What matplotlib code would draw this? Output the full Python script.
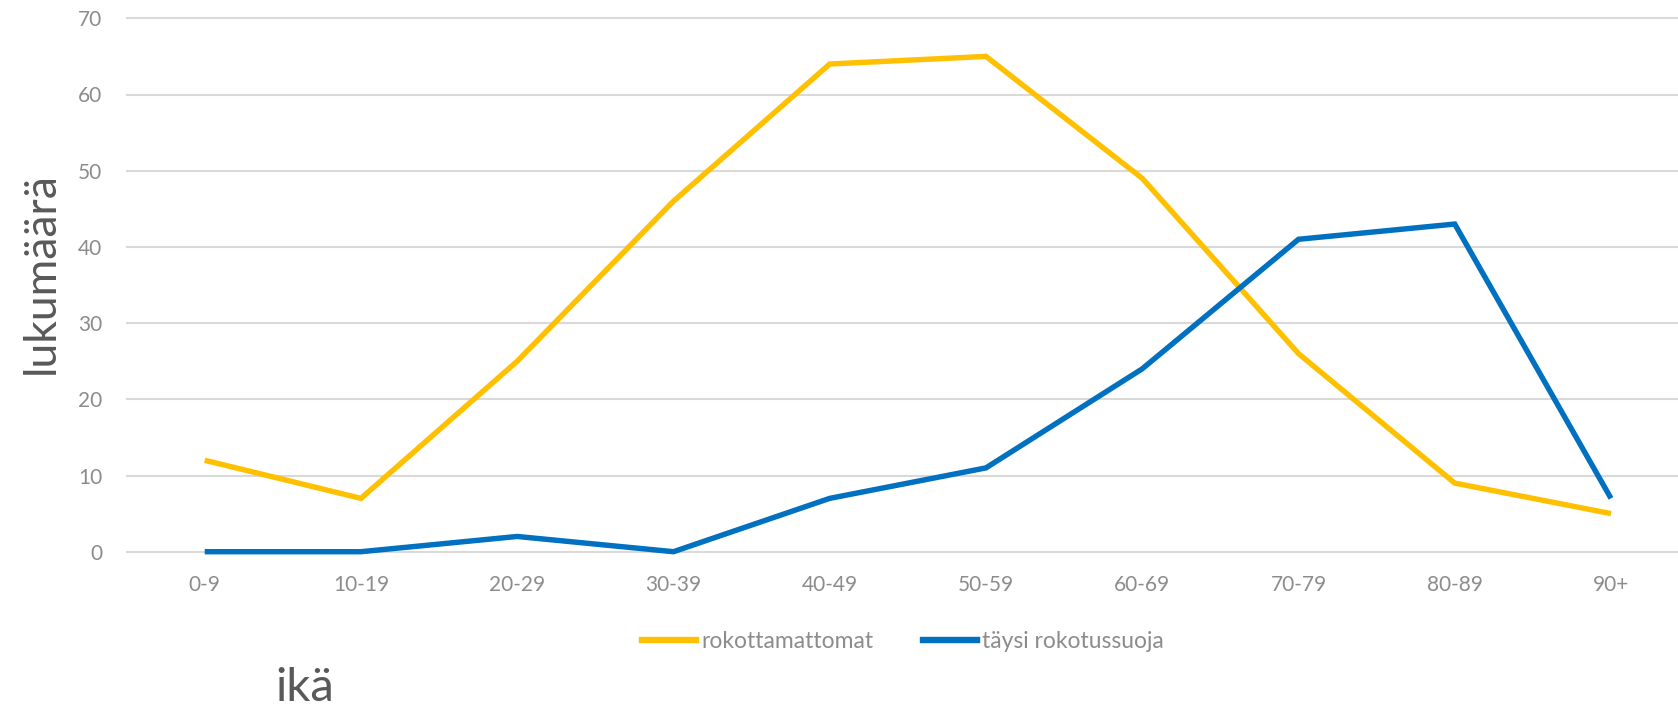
import matplotlib
matplotlib.use("Agg")
import matplotlib.pyplot as plt
from matplotlib.lines import Line2D

categories = ["0-9", "10-19", "20-29", "30-39", "40-49", "50-59", "60-69", "70-79", "80-89", "90+"]
rokottamattomat = [12, 7, 25, 46, 64, 65, 49, 26, 9, 5]
taysi = [0, 0, 2, 0, 7, 11, 24, 41, 43, 7]
yticks = [0, 10, 20, 30, 40, 50, 60, 70]

plt.rcParams['font.family'] = ['Lato', 'DejaVu Sans']

W, H = 1678, 710
fig = plt.figure(figsize=(W/100, H/100), dpi=100)
left, right, top, bottom = 126, 1678, 10, 560
ax = fig.add_axes([left/W, 1-bottom/H, (right-left)/W, (bottom-top)/H])

x0, x9 = 204.7, 1611.0
y0, y70 = 551.7, 18.3

x = list(range(len(categories)))
ax.plot(x, rokottamattomat, color="#FFC000", lw=3.9, solid_joinstyle="miter", solid_capstyle="butt", zorder=3)
ax.plot(x, taysi, color="#0070C0", lw=3.9, solid_joinstyle="miter", solid_capstyle="butt", zorder=3)

sx = (x9-x0)/9
ax.set_xlim(-(x0-left)/sx, 9 + (right-x9)/sx)
sy = (y0-y70)/70
ax.set_ylim(-(bottom-y0)/sy, 70 + (y70-top)/sy)

ax.set_yticks(yticks)
ax.set_xticks(x)
ax.set_xticklabels(categories)
ax.yaxis.grid(True, color="#D9D9D9", lw=1.5)
ax.set_axisbelow(True)
for s in ax.spines.values():
    s.set_visible(False)
ax.tick_params(axis='both', length=0, labelsize=15, labelcolor="#8C8C8C")
ax.tick_params(axis='y', pad=17)
ax.tick_params(axis='x', pad=11)

fig.text(41/W, 1-273/H, "lukumäärä", rotation=90, ha="center", va="center", fontsize=32, color="#595959")
fig.text(305/W, 1-688/H, "ikä", ha="center", va="center", fontsize=34, color="#595959")

handles = [Line2D([], [], color="#FFC000", lw=4.6), Line2D([], [], color="#0070C0", lw=4.6)]
fig.legend(handles, ["rokottamattomat", "täysi rokotussuoja"], loc="center", bbox_to_anchor=(903/W, 1-642/H),
           ncol=2, frameon=False, fontsize=16.5, labelcolor="#8C8C8C", handlelength=2.33, handletextpad=0.24,
           columnspacing=2.18)

fig.savefig("out.png", dpi=100)
